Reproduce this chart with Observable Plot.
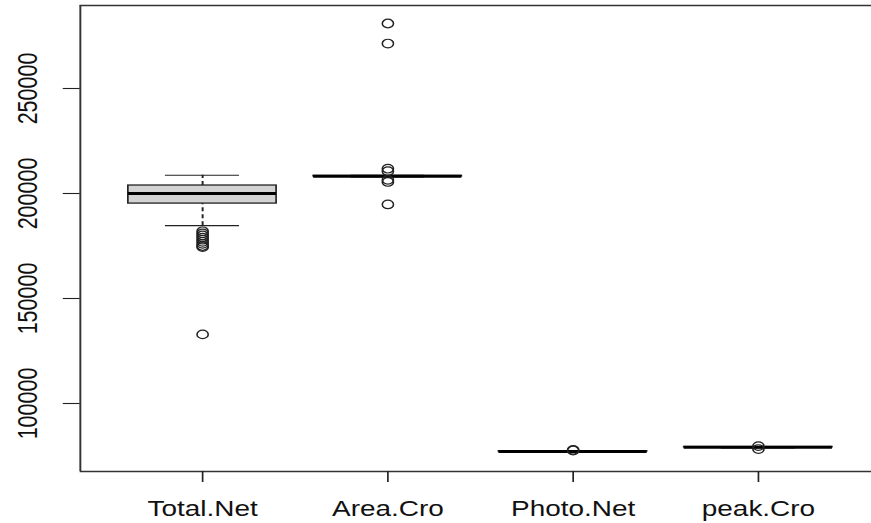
<!DOCTYPE html>
<html><head><meta charset="utf-8">
<script src="https://cdn.jsdelivr.net/npm/d3@7"></script>
<script src="https://cdn.jsdelivr.net/npm/@observablehq/plot@0.6"></script>
<style>
html,body{margin:0;padding:0;background:#fff;overflow:hidden;width:871px;height:523px}
#chart{width:670px;transform:scaleX(1.3);transform-origin:0 0}
#chart svg{display:block}
</style></head><body><div id="chart"></div>
<script>
const categories = ["Total.Net", "Area.Cro", "Photo.Net", "peak.Cro"];
const lowerWhisker = [184700, 207900, 76800, 78900];
const q1 = [195200, 208100, 77100, 79100];
const median = [200000, 208250, 77200, 79200];
const q3 = [203800, 208400, 77300, 79300];
const upperWhisker = [208700, 208600, 77400, 79500];
const outliers = [
  [182000, 181000, 180000, 179000, 178000, 177000, 176000, 175000, 174500, 132900],
  [280950, 271400, 211800, 210600, 206500, 205500, 194800],
  [77600, 77900],
  [79700, 78300]
];
const yTicks = [100000, 150000, 200000, 250000];

const S = 1.3;
const W = 871 / S;
const ink = "#222";
const font = "Liberation Sans, Arial, Helvetica, sans-serif";

const rows = categories.map((name, k) => ({
  i: k + 1, name, lw: lowerWhisker[k], q1: q1[k], med: median[k], q3: q3[k], uw: upperWhisker[k]
}));
const outRows = outliers.flatMap((vals, k) => vals.map(v => ({i: k + 1, v})));

const chart = Plot.plot({
  width: W,
  height: 523,
  marginLeft: 61.3,
  marginRight: 0,
  marginTop: 5,
  marginBottom: 52,
  style: {fontFamily: font, color: ink, background: "#fff"},
  x: {type: "linear", domain: [0.34, 4.611], label: null},
  y: {domain: [67619, 289524], label: null},
  marks: [
    // whiskers
    Plot.ruleX(rows, {x: "i", y1: "q3", y2: "uw", stroke: ink, strokeWidth: 1.5, strokeDasharray: "4,3"}),
    Plot.ruleX(rows, {x: "i", y1: "lw", y2: "q1", stroke: ink, strokeWidth: 1.5, strokeDasharray: "4,3"}),
    // staples
    Plot.ruleY(rows, {y: "uw", x1: d => d.i - 0.2, x2: d => d.i + 0.2, stroke: ink, strokeWidth: 1.2}),
    Plot.ruleY(rows, {y: "lw", x1: d => d.i - 0.2, x2: d => d.i + 0.2, stroke: ink, strokeWidth: 1.2}),
    // boxes
    Plot.rect(rows, {x1: d => d.i - 0.4, x2: d => d.i + 0.4, y1: "q1", y2: "q3", fill: "#d3d3d3", stroke: ink, strokeWidth: 1.3}),
    // medians
    Plot.ruleY(rows, {y: "med", x1: d => d.i - 0.4, x2: d => d.i + 0.4, stroke: "#000", strokeWidth: 3}),
    // outliers
    Plot.dot(outRows, {x: "i", y: "v", r: 4.3, stroke: ink, strokeWidth: 1.2, fill: "none"}),
    // frame (left, top, bottom)
    Plot.ruleX([0.34], {stroke: "#333", strokeWidth: 1.5}),
    Plot.ruleY([289524, 67619], {stroke: "#333", strokeWidth: 1.5}),
    // axes
    Plot.axisX({ticks: [1, 2, 3, 4], tickFormat: i => categories[i - 1], tickSize: 11, tickPadding: 18.5,
      fontSize: 21.5, stroke: ink, fill: "#111", strokeWidth: 1.3, anchor: "bottom", label: null}),
    Plot.axisY({ticks: yTicks, tickFormat: () => "", tickSize: 13, stroke: ink, strokeWidth: 1.1, anchor: "left", label: null}),
    Plot.text(yTicks, {y: d => d, text: d => String(d), frameAnchor: "left", rotate: -90,
      textAnchor: "middle", lineAnchor: "bottom", dx: -33.6, fontSize: 21.5, fill: "#111"})
  ]
});
document.getElementById("chart").appendChild(chart);
</script>
</body></html>
